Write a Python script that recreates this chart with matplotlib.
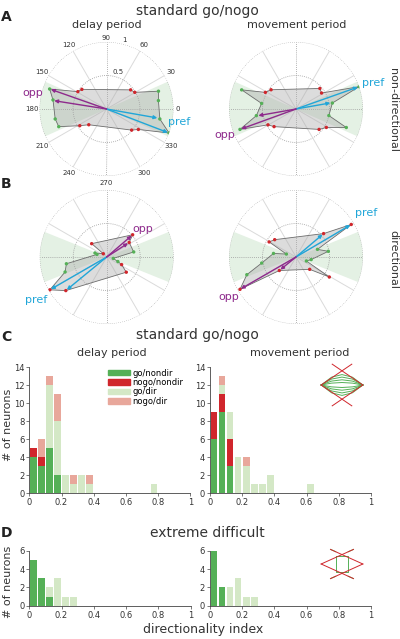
import numpy as np
import matplotlib
matplotlib.use("Agg")
import matplotlib.pyplot as plt
from matplotlib.patches import Patch

W, H = 400, 639

# ---- polar tuning plots: (angle deg, radius, point type) in outline order ----
a_delay_ang = [18.9, 9.2, -10.6, -21, -32.7, -40, 221.6, 212, 200.3, 191, 170.4, 160.6, 148.8, 141.4, 38.4, 30.5]
a_delay_r = [0.82, 0.785, 0.81, 1.0, 0.565, 0.49, 0.354, 0.47, 0.76, 0.78, 0.81, 0.90, 0.50, 0.47, 0.46, 0.49]
a_delay_kind = list("ggggrrrrggggrrrr")
a_delay_pref = [(-21, 0.98), (-10, 0.77)]
a_delay_opp = [(160.6, 0.88), (171, 0.79)]

a_move_ang = [19.5, 9.3, -11.3, -20.2, -31.3, -41.5, 218.8, 209.5, 200, 189.5, 170.8, 160.6, 151.5, 142.3, 40.7, 32]
a_move_r = [1.0, 0.55, 0.50, 0.80, 0.53, 0.46, 0.42, 0.48, 0.89, 0.60, 0.52, 0.86, 0.52, 0.47, 0.47, 0.45]
a_move_kind = list("ggggrrrrggggrrrr")
a_move_pref = [(19.5, 0.98), (10, 0.52)]
a_move_opp = [(200, 0.87), (190, 0.57)]

b_delay_ang = [40.6, 138.4, 136, 161, 165, 189.5, 199.8, 210, 219.4, -37.8, -27, -22, -12, 10.6, 32.9]
b_delay_r = [0.51, 0.30, 0.07, 0.185, 0.15, 0.61, 0.66, 0.98, 0.79, 0.37, 0.25, 0.18, 0.10, 0.41, 0.40]
b_delay_kind = list("rrrggggrrrrgggr")
b_delay_pref = [(210, 0.96), (219.4, 0.77)]
b_delay_opp = [(40.6, 0.49), (33, 0.38)]

b_move_ang = [30.5, 40.3, 140.9, 150.7, 163, 171, 190, 199.8, 210, 219, -42, -31, -21, -9.7, 10, 19.6]
b_move_r = [0.957, 0.54, 0.41, 0.46, 0.15, 0.34, 0.52, 0.78, 0.965, 0.32, 0.275, 0.58, 0.166, 0.23, 0.49, 0.34]
b_move_kind = list("rrrrggggrrrrgggg")
b_move_pref = [(30.5, 0.94), (40.3, 0.52)]
b_move_opp = [(210, 0.95), (219, 0.30)]

angle_labels = [0, 30, 60, 90, 120, 150, 180, 210, 240, 270, 300, 330]

# ---- histograms of directionality index (bin width 0.05) ----
n_bins = 20
c_delay_go_nondir = [4, 3, 5, 2, 0, 0, 0, 0, 0, 0, 0, 0, 0, 0, 0, 0, 0, 0, 0, 0]
c_delay_nogo_nondir = [1, 1, 0, 0, 0, 0, 0, 0, 0, 0, 0, 0, 0, 0, 0, 0, 0, 0, 0, 0]
c_delay_go_dir = [0, 0, 7, 6, 2, 1, 2, 1, 0, 0, 0, 0, 0, 0, 0, 1, 0, 0, 0, 0]
c_delay_nogo_dir = [0, 2, 1, 3, 0, 1, 0, 1, 0, 0, 0, 0, 0, 0, 0, 0, 0, 0, 0, 0]

c_move_go_nondir = [6, 9, 3, 0, 0, 0, 0, 0, 0, 0, 0, 0, 0, 0, 0, 0, 0, 0, 0, 0]
c_move_nogo_nondir = [3, 2, 3, 0, 0, 0, 0, 0, 0, 0, 0, 0, 0, 0, 0, 0, 0, 0, 0, 0]
c_move_go_dir = [0, 1, 3, 4, 3, 1, 1, 2, 0, 0, 0, 0, 1, 0, 0, 0, 0, 0, 0, 0]
c_move_nogo_dir = [0, 1, 0, 0, 1, 0, 0, 0, 0, 0, 0, 0, 0, 0, 0, 0, 0, 0, 0, 0]

d_delay_go_nondir = [5, 3, 1, 0, 0, 0, 0, 0, 0, 0, 0, 0, 0, 0, 0, 0, 0, 0, 0, 0]
d_delay_go_dir = [0, 0, 1, 3, 1, 1, 0, 0, 0, 0, 0, 0, 0, 0, 0, 0, 0, 0, 0, 0]
d_move_go_nondir = [6, 2, 0, 0, 0, 0, 0, 0, 0, 0, 0, 0, 0, 0, 0, 0, 0, 0, 0, 0]
d_move_go_dir = [0, 0, 2, 3, 1, 1, 0, 0, 0, 0, 0, 0, 0, 0, 0, 0, 0, 0, 0, 0]

legend_labels = ["go/nondir", "nogo/nondir", "go/dir", "nogo/dir"]

# ---- small schematic insets (x, y pairs) ----
inset_c_red = [([-1, 0.47], [0, 1]), ([-1, 0.47], [0, -1]), ([1, -0.47], [0, 1]), ([1, -0.47], [0, -1])]
inset_c_lens = [0.12, 0.25, 0.38, 0.5]
inset_d_red = [([-1, 0.55], [0, 0.7]), ([-1, 0.55], [0, -0.7]), ([1, -0.55], [0, 0.7]), ([1, -0.55], [0, -0.7])]
inset_d_square = ([-0.3, 0.3, 0.3, -0.3, -0.3], [0.38, 0.38, -0.38, -0.38, 0.38])

GREEN = "#55b057"
RED = "#d0262c"
LIGHT = "#d4e8c6"
PINK = "#e8a79b"
CYAN = "#21a6d8"
PURPLE = "#8e2a8c"
WEDGE = "#e4f1e4"
TXT = "#333333"


def px_rect(x0, y0, x1, y1):
    return [x0 / W, 1 - y1 / H, (x1 - x0) / W, (y1 - y0) / H]


def ftext(x, y, s, **kw):
    kw.setdefault("color", TXT)
    fig.text(x / W, 1 - y / H, s, ha=kw.pop("ha", "center"), va=kw.pop("va", "center"), **kw)


def polar_panel(cx, cy, ang, rad, kind, pref, opp, wedge, labels=False):
    R = 67
    ax = fig.add_axes(px_rect(cx - R, cy - R, cx + R, cy + R), projection="polar")
    ax.set_axis_off()
    ax.set_ylim(0, 1)
    ax.bar(np.deg2rad([0, 180]), [1, 1], width=np.deg2rad(wedge), bottom=0,
           color=WEDGE, lw=0, zorder=0)
    circ = np.linspace(0, 2 * np.pi, 240)
    ax.plot(circ, np.ones_like(circ), ls=(0, (1, 1.5)), color="#9a9a9a", lw=0.6, zorder=1)
    ax.plot(circ, np.full_like(circ, 0.5), ls=(0, (1, 1.5)), color="#9a9a9a", lw=0.6, zorder=1)
    for a in range(0, 360, 30):
        t = np.deg2rad(a)
        if a % 90 == 0:
            ax.plot([t, t], [0, 1], ls=(0, (1, 1.5)), color="#9a9a9a", lw=0.6, zorder=1)
        else:
            ax.plot([t, t], [0, 1], color="#dadada", lw=0.7, zorder=1)

    th = np.deg2rad(ang)
    thc = np.append(th, th[0])
    rc = np.append(rad, rad[0])
    ax.fill(thc, rc, facecolor="#a9a9a9", alpha=0.4, edgecolor="none", zorder=2)
    ax.plot(thc, rc, color="#6c6c6c", lw=0.6, zorder=3)
    cols = [GREEN if k == "g" else RED for k in kind]
    ax.scatter(th, rad, c=cols, s=6, lw=0, zorder=5)

    for a, r in pref:
        ax.annotate("", xy=(np.deg2rad(a), r), xytext=(0, 0),
                    arrowprops=dict(arrowstyle="-|>", color=CYAN, lw=1.0, mutation_scale=5,
                                    shrinkA=0, shrinkB=0), zorder=6)
    for a, r in opp:
        ax.annotate("", xy=(np.deg2rad(a), r), xytext=(0, 0),
                    arrowprops=dict(arrowstyle="-|>", color=PURPLE, lw=1.0, mutation_scale=5,
                                    shrinkA=0, shrinkB=0), zorder=6)

    if labels:
        for a in angle_labels:
            r = 1.06 if a in (0, 90) else 1.11
            ax.text(np.deg2rad(a), r, str(a), fontsize=5, color=TXT, ha="center", va="center",
                    clip_on=False)
        ax.text(np.deg2rad(72), 0.58, "0.5", fontsize=5, color=TXT, ha="center", va="center")
        ax.text(np.deg2rad(75), 1.06, "1", fontsize=5, color=TXT, ha="center", va="center",
                clip_on=False)
    return ax


def hist_panel(x0, y0, x1, y1, ymax, layers):
    ax = fig.add_axes(px_rect(x0, y0, x1, y1))
    left = np.arange(n_bins) * 0.05
    bottom = np.zeros(n_bins)
    for counts, color in layers:
        counts = np.array(counts, dtype=float)
        ax.bar(left + 0.025, counts, width=0.041, bottom=bottom, color=color, lw=0)
        bottom += counts
    ax.set_xlim(0, 1)
    ax.set_ylim(0, ymax)
    ax.set_xticks([0, 0.2, 0.4, 0.6, 0.8, 1])
    ax.set_xticklabels(["0", "0.2", "0.4", "0.6", "0.8", "1"])
    ax.set_yticks(range(0, ymax + 1, 2))
    for s in ("top", "right"):
        ax.spines[s].set_visible(False)
    for s in ("left", "bottom"):
        ax.spines[s].set_linewidth(0.6)
        ax.spines[s].set_color("#444444")
    ax.tick_params(labelsize=6, length=2, width=0.5, pad=1.5, colors="#444444",
                   labelcolor=TXT)
    return ax


def inset(cx, cy, red, green_lines):
    ax = fig.add_axes(px_rect(cx - 25, cy - 25, cx + 25, cy + 25))
    ax.set_xlim(-1.2, 1.2)
    ax.set_ylim(-1.2, 1.2)
    ax.set_axis_off()
    for xs, ys in green_lines:
        ax.plot(xs, ys, color=GREEN, lw=0.7)
    for xs, ys in red:
        ax.plot(xs, ys, color=RED, lw=0.7)
    return ax


fig = plt.figure(figsize=(W / 100, H / 100), dpi=100)

# titles and labels
ftext(197, 11, "standard go/nogo", fontsize=10)
ftext(6, 17, "A", fontsize=10, fontweight="bold", color="#222222")
ftext(107, 25, "delay period", fontsize=8)
ftext(297, 25, "movement period", fontsize=8)
ftext(6, 184, "B", fontsize=10, fontweight="bold", color="#222222")
ftext(393, 110, "non-directional", fontsize=8, rotation=-90)
ftext(393, 259, "directional", fontsize=8, rotation=-90)

polar_panel(106.5, 109, a_delay_ang, a_delay_r, a_delay_kind, a_delay_pref, a_delay_opp, 48, labels=True)
polar_panel(296, 109, a_move_ang, a_move_r, a_move_kind, a_move_pref, a_move_opp, 48)
polar_panel(106.7, 257, b_delay_ang, b_delay_r, b_delay_kind, b_delay_pref, b_delay_opp, 44)
polar_panel(296, 257, b_move_ang, b_move_r, b_move_kind, b_move_pref, b_move_opp, 44)

ftext(33, 93, "opp", fontsize=8, color=PURPLE)
ftext(179, 122, "pref", fontsize=8, color=CYAN)
ftext(373, 83, "pref", fontsize=8, color=CYAN)
ftext(225, 135, "opp", fontsize=8, color=PURPLE)
ftext(143, 229, "opp", fontsize=8, color=PURPLE)
ftext(36, 300, "pref", fontsize=8, color=CYAN)
ftext(366, 213, "pref", fontsize=8, color=CYAN)
ftext(229, 297, "opp", fontsize=8, color=PURPLE)

ftext(197, 335, "standard go/nogo", fontsize=10)
ftext(6, 337, "C", fontsize=10, fontweight="bold", color="#222222")
ftext(112, 353, "delay period", fontsize=8)
ftext(300, 353, "movement period", fontsize=8)

cl = hist_panel(29.3, 367.3, 190.3, 493.3, 14,
                [(c_delay_go_nondir, GREEN), (c_delay_nogo_nondir, RED),
                 (c_delay_go_dir, LIGHT), (c_delay_nogo_dir, PINK)])
hist_panel(210, 367.3, 371, 493.3, 14,
           [(c_move_go_nondir, GREEN), (c_move_nogo_nondir, RED),
            (c_move_go_dir, LIGHT), (c_move_nogo_dir, PINK)])
handles = [Patch(color=c) for c in (GREEN, RED, LIGHT, PINK)]
cl.legend(handles, legend_labels, loc="upper left", bbox_to_anchor=(0.49, 0.99), frameon=False,
          fontsize=6, handlelength=2.6, handleheight=0.6, labelspacing=0.05,
          handletextpad=0.3, borderpad=0, borderaxespad=0)
ftext(8, 425, "# of neurons", fontsize=8, rotation=90)

ftext(6, 533, "D", fontsize=10, fontweight="bold", color="#222222")
ftext(207, 533, "extreme difficult", fontsize=10)
hist_panel(29.3, 551, 190.5, 605.7, 6, [(d_delay_go_nondir, GREEN), (d_delay_go_dir, LIGHT)])
hist_panel(210, 551, 371, 605.7, 6, [(d_move_go_nondir, GREEN), (d_move_go_dir, LIGHT)])
ftext(8, 582, "# of neurons", fontsize=8, rotation=90)
ftext(203, 630, "directionality index", fontsize=9)

# schematic insets
lens = []
for h in inset_c_lens:
    lens.append(([-1, -0.5, 0, 0.5, 1], [0, 0.75 * h, h, 0.75 * h, 0]))
    lens.append(([-1, -0.5, 0, 0.5, 1], [0, -0.75 * h, -h, -0.75 * h, 0]))
inset(342, 385, inset_c_red, lens)

d_green = [inset_d_square,
           ([-0.55, -0.3], [0.7, 0.59]), ([0.55, 0.3], [0.7, 0.59]),
           ([-0.55, -0.3], [-0.7, -0.59]), ([0.55, 0.3], [-0.7, -0.59])]
inset(342, 564, inset_d_red, d_green)

fig.savefig("out.png", dpi=100)
